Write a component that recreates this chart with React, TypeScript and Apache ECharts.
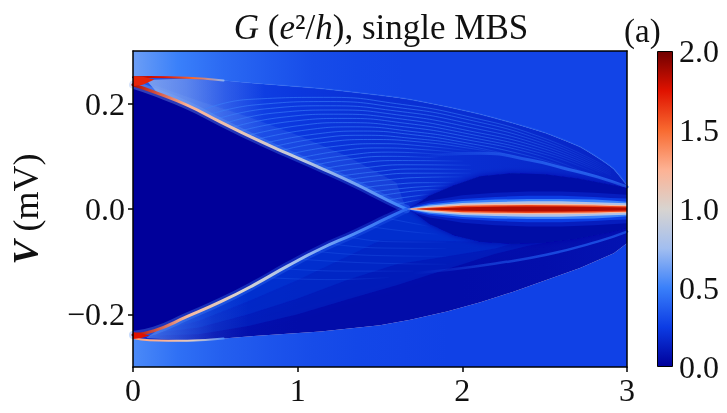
import React, { useEffect, useRef } from "react";
import * as echarts from "echarts";

type P = number[];

const xTicks = [0, 1, 2, 3];
const yTicks = [-0.2, 0, 0.2];
const barTicks = [0, 0.5, 1, 1.5, 2];

const cmapPos = [0, 0.25, 0.5, 0.75, 1, 1.25, 1.5, 1.75, 2];
const cmapHex = ["#00009a", "#0c3ce4", "#3a80fa", "#a2bef0", "#d8d4d0", "#fdb294", "#f86a30", "#e01200", "#700000"];

const upperEnvelope: P[] = [[0, 0.25], [0.1, 0.2505], [0.33, 0.249], [0.55, 0.244], [0.735, 0.239], [1.14, 0.229], [1.5, 0.216], [1.685, 0.208], [1.907, 0.194], [2.11, 0.18], [2.31, 0.163], [2.51, 0.144], [2.715, 0.118], [2.85, 0.092], [2.92, 0.076], [3, 0.045]];
const lowerEnvelope: P[] = [[0, -0.245], [0.1, -0.249], [0.33, -0.25], [0.55, -0.246], [0.735, -0.241], [1.14, -0.2326], [1.5, -0.2205], [1.685, -0.2105], [1.907, -0.1945], [2.11, -0.177], [2.31, -0.157], [2.51, -0.135], [2.715, -0.112], [2.92, -0.084], [3, -0.065]];
const upperGap: P[] = [[0, 0.236], [0.13, 0.222], [0.33, 0.197], [0.533, 0.165], [0.735, 0.134], [0.94, 0.105], [1.14, 0.0777], [1.34, 0.049], [1.545, 0.017], [1.66, 0]];
const lowerGap: P[] = [[0, -0.239], [0.13, -0.231], [0.33, -0.204], [0.533, -0.176], [0.735, -0.144], [0.94, -0.108], [1.14, -0.0755], [1.34, -0.0475], [1.545, -0.017], [1.66, 0]];
const upperRidge: P[] = [[1.75, 0.098], [1.9, 0.104], [2.11, 0.106], [2.41, 0.093], [2.61, 0.078], [2.82, 0.061], [3, 0.042]];
const lowerRidge: P[] = [[1.7, -0.122], [1.907, -0.116], [2.21, -0.103], [2.51, -0.087], [2.82, -0.062], [3, -0.043]];
const upperDome: P[] = [[1.68, 0], [1.8, 0.025], [1.95, 0.045], [2.11, 0.062], [2.3, 0.068], [2.5, 0.066], [2.7, 0.058], [2.9, 0.046], [3, 0.04]];
const lowerDome: P[] = [[1.68, 0], [1.8, -0.028], [1.95, -0.05], [2.11, -0.062], [2.3, -0.066], [2.5, -0.064], [2.7, -0.056], [2.9, -0.044], [3, -0.036]];
const upperBand: P[] = [[1.66, 0], [1.6, 0.05], [1.3, 0.1], [1.0, 0.14], [0.7, 0.175], [0.4, 0.205], [0.13, 0.235]];
const lowerBandA: P[] = [[0.13, -0.24], [0.4, -0.238], [0.7, -0.222], [1, -0.2], [1.3, -0.172], [1.6, -0.145], [1.9, -0.115], [2.2, -0.085], [2.4, -0.07]];
const lowerBandB: P[] = [[0.13, -0.235], [0.4, -0.225], [0.7, -0.2], [1, -0.17], [1.3, -0.135], [1.6, -0.105], [1.9, -0.09], [2.2, -0.075]];
const lowerBandC: P[] = [[0.13, -0.233], [0.4, -0.212], [0.7, -0.175], [1, -0.135], [1.3, -0.09], [1.5, -0.06], [1.8, -0.06], [2.1, -0.062]];
const tipBlob: P[] = [[0, 0.252], [0.06, 0.251], [0.13, 0.246], [0.06, 0.236], [0, 0.233]];
const lowerTipBlob: P[] = [[0, -0.247], [0.05, -0.245], [0.1, -0.24], [0.04, -0.235], [0, -0.234]];
const tipFill: P[] = [[0.08, 0.245], [0.33, 0.248], [0.8, 0.238], [0.8, 0.13], [0.33, 0.197], [0.15, 0.22]];
const lowerTipFill: P[] = [[0.08, -0.245], [0.33, -0.25], [0.7, -0.242], [0.7, -0.15], [0.33, -0.204], [0.15, -0.23]];

const lensX = [1.66, 1.72, 1.8, 1.9, 2.0, 2.2, 2.4, 2.6, 2.8, 2.9, 3.0];
const lensValues = [0.12, 0.25, 0.5, 0.8, 1.2, 1.6, 1.85];
const lensHalf = [
  [0, 0.009, 0.016, 0.021, 0.026, 0.031, 0.033, 0.033, 0.031, 0.029, 0.027],
  [0, 0.006, 0.012, 0.016, 0.019, 0.023, 0.025, 0.025, 0.023, 0.021, 0.02],
  [0, 0.004, 0.009, 0.012, 0.015, 0.018, 0.019, 0.019, 0.018, 0.016, 0.014],
  [0, 0.003, 0.0065, 0.009, 0.0115, 0.0135, 0.0145, 0.0145, 0.013, 0.012, 0.011],
  [0, 0.0015, 0.004, 0.0065, 0.0085, 0.0098, 0.01, 0.01, 0.0092, 0.0082, 0.0072],
  [0, 0.0006, 0.0022, 0.0045, 0.0062, 0.0072, 0.0074, 0.0072, 0.0065, 0.0056, 0.005],
  [0, 0, 0.0008, 0.002, 0.0035, 0.0045, 0.0048, 0.0046, 0.0038, 0.0032, 0.0028],
];

const upperFringes: P[][] = [
  [[0.4, 0.185], [0.7, 0.208], [1.2, 0.212], [1.6, 0.2], [2, 0.178], [2.5, 0.134], [2.9, 0.076]],
  [[0.45, 0.178], [0.75, 0.198], [1.2, 0.204], [1.6, 0.193], [2, 0.172], [2.5, 0.129], [2.9, 0.073]],
  [[0.5, 0.17], [0.8, 0.19], [1.2, 0.196], [1.6, 0.186], [2, 0.165], [2.5, 0.124], [2.9, 0.07]],
  [[0.55, 0.162], [0.85, 0.182], [1.25, 0.188], [1.6, 0.179], [2, 0.158], [2.5, 0.119], [2.9, 0.067]],
  [[0.6, 0.155], [0.9, 0.174], [1.25, 0.18], [1.6, 0.172], [2, 0.151], [2.5, 0.114], [2.9, 0.064]],
  [[0.65, 0.148], [0.95, 0.166], [1.3, 0.172], [1.65, 0.163], [2, 0.145], [2.5, 0.109], [2.85, 0.068]],
  [[0.7, 0.14], [1, 0.158], [1.3, 0.164], [1.65, 0.156], [2, 0.139], [2.5, 0.104], [2.8, 0.07]],
  [[0.75, 0.132], [1.05, 0.15], [1.35, 0.156], [1.7, 0.147], [2, 0.133], [2.45, 0.103], [2.75, 0.068]],
  [[0.8, 0.125], [1.1, 0.142], [1.4, 0.148], [1.7, 0.141], [2, 0.127], [2.4, 0.101], [2.7, 0.072]],
  [[0.85, 0.118], [1.12, 0.134], [1.4, 0.14], [1.7, 0.134], [2, 0.122], [2.35, 0.098]],
  [[0.9, 0.111], [1.15, 0.126], [1.45, 0.132], [1.75, 0.127], [2.05, 0.115], [2.25, 0.104]],
  [[0.95, 0.104], [1.2, 0.118], [1.5, 0.124], [1.75, 0.12], [2.05, 0.11]],
  [[1, 0.096], [1.25, 0.11], [1.5, 0.116], [1.8, 0.112], [2, 0.106]],
  [[1.05, 0.09], [1.3, 0.102], [1.55, 0.108], [1.9, 0.103]],
  [[1.1, 0.083], [1.3, 0.094], [1.55, 0.1], [1.85, 0.097]],
  [[1.15, 0.076], [1.35, 0.086], [1.6, 0.092], [2, 0.091]],
  [[1.2, 0.069], [1.4, 0.078], [1.65, 0.084], [2.05, 0.083]],
  [[1.25, 0.062], [1.45, 0.07], [1.7, 0.076], [2.05, 0.075]],
  [[1.3, 0.055], [1.45, 0.062], [1.7, 0.068], [2.05, 0.068]],
  [[1.35, 0.048], [1.5, 0.054], [1.75, 0.06], [2.0, 0.061]],
  [[1.4, 0.04], [1.55, 0.046], [1.8, 0.05], [1.95, 0.05]],
  [[1.45, 0.032], [1.6, 0.038], [1.8, 0.043], [1.92, 0.044]],
  [[1.5, 0.025], [1.6, 0.03], [1.78, 0.036], [1.88, 0.037]],
  [[1.55, 0.017], [1.65, 0.022], [1.8, 0.028]],
  [[1.6, 0.009], [1.68, 0.014], [1.76, 0.019]],
];
const lowerFringes: P[][] = [
  [[1.3, -0.052], [1.55, -0.062], [1.9, -0.063]],
  [[1.2, -0.066], [1.5, -0.074], [1.9, -0.075]],
  [[1.1, -0.08], [1.45, -0.088], [1.9, -0.09]],
  [[1.0, -0.095], [1.4, -0.102], [1.9, -0.105]],
  [[1.45, -0.034], [1.65, -0.042], [1.85, -0.048]],
  [[1.55, -0.018], [1.68, -0.026], [1.8, -0.033]],
  [[0.9, -0.113], [1.3, -0.118], [1.7, -0.118]],
  [[0.8, -0.13], [1.2, -0.134], [1.55, -0.13]],
];

const upperBgValues = [0.62, 0.5, 0.42, 0.36, 0.31, 0.29, 0.28, 0.28, 0.28, 0.28, 0.28, 0.28];
const lowerBgValues = [0.54, 0.44, 0.38, 0.34, 0.31, 0.29, 0.28, 0.27, 0.27, 0.27, 0.27, 0.27];
const upperWedgeValues = [0.36, 0.29, 0.23, 0.2, 0.19, 0.17, 0.14];
const lowerWedgeValues = [0.18, 0.07, 0.05, 0.05, 0.05, 0.06, 0.08];
const gapEdgeValues = [1.85, 1.25, 1.1, 0.9, 0.65, 0.5];
const lowerGapEdgeValues = [1.85, 1.2, 1.0, 0.75, 0.55, 0.4];
const upperTipValues = [1.85, 1.75, 1.5, 0.7];
const lowerTipValues = [1.3, 1.25, 1.05, 0.55];

function hexRgb(h: string) {
  return [1, 3, 5].map((i) => parseInt(h.slice(i, i + 2), 16));
}
function colorOf(v: number, alpha = 1) {
  let i = 0;
  while (i < cmapPos.length - 2 && v > cmapPos[i + 1]) i++;
  const t = (v - cmapPos[i]) / (cmapPos[i + 1] - cmapPos[i]);
  const a = hexRgb(cmapHex[i]);
  const b = hexRgb(cmapHex[i + 1]);
  const c = a.map((x, k) => Math.round(x + (b[k] - x) * t));
  return `rgba(${c[0]},${c[1]},${c[2]},${alpha})`;
}
function gradient(values: number[], vertical = false, alpha = 1) {
  return new echarts.graphic.LinearGradient(0, 0, vertical ? 0 : 1, vertical ? 1 : 0,
    values.map((v, i) => ({ offset: i / (values.length - 1), color: colorOf(v, alpha) })));
}
function fade(v: number, alphas: number[]) {
  return new echarts.graphic.LinearGradient(0, 0, 1, 0,
    alphas.map((al, i) => ({ offset: i / (alphas.length - 1), color: colorOf(v, al) })));
}
const rev = (a: P[]) => [...a].reverse();

function lens(i: number): P[] {
  const top = lensX.map((x, k) => [x, lensHalf[i][k]]);
  const bot = lensX.map((x, k) => [x, -lensHalf[i][k]]);
  return [...top, ...rev(bot)];
}

function regionSeries(regions: { pts: P[]; fill: any; soft?: number; shade?: string }[], z: number) {
  return {
    type: "custom", coordinateSystem: "cartesian2d", xAxisIndex: 0, yAxisIndex: 0, z, silent: true, clip: true,
    data: regions.map((_, i) => [i, 0]),
    renderItem: (params: any, api: any) => {
      const r = regions[params.dataIndex];
      const style: any = { fill: r.fill };
      if (r.soft) {
        style.shadowBlur = r.soft;
        style.shadowColor = r.shade;
      }
      return { type: "polygon", shape: { points: r.pts.map((p) => api.coord(p)) }, style };
    },
  };
}

export default function App() {
  const ref = useRef<HTMLDivElement>(null);
  useEffect(() => {
    const chart = echarts.init(ref.current!, undefined, { renderer: "svg" });
    const lowerEdge = lowerGap.slice(1);
    const regions = [
      { pts: [[0, 0.3], [3, 0.3], ...rev(upperEnvelope)], fill: gradient(upperBgValues) },
      { pts: [[0, -0.3], [3, -0.3], ...rev(lowerEnvelope)], fill: gradient(lowerBgValues) },
      { pts: [...upperEnvelope, [3, 0], [1.66, 0], ...rev(upperGap)], fill: gradient(upperWedgeValues) },
      { pts: [...lowerEnvelope, [3, 0], [1.66, 0], ...rev(lowerGap)], fill: gradient(lowerWedgeValues) },
    ];
    const softRegions = [
      { pts: [...upperGap.slice(1), ...upperBand], fill: colorOf(0.6, 0.14), soft: 8, shade: colorOf(0.6, 0.14) },
      { pts: [...lowerEdge, ...lowerDome.slice(0, 6), ...rev(lowerBandA)], fill: colorOf(0.3, 0.22), soft: 10, shade: colorOf(0.3, 0.2) },
      { pts: [...lowerEdge, ...lowerDome.slice(0, 5), ...rev(lowerBandB)], fill: colorOf(0.3, 0.22), soft: 10, shade: colorOf(0.3, 0.2) },
      { pts: [...lowerEdge, ...lowerDome.slice(0, 4), ...rev(lowerBandC)], fill: colorOf(0.3, 0.22), soft: 10, shade: colorOf(0.3, 0.2) },
      { pts: tipFill, fill: fade(0.75, [0.7, 0.5, 0.2, 0]) },
      { pts: lowerTipFill, fill: fade(0.6, [0.6, 0.35, 0.12, 0]) },
    ];
    const gapRegion = [{ pts: [...upperGap, ...rev(lowerGap)], fill: colorOf(0) }];
    const domeRegions = [
      { pts: [...upperDome, [3, 0]], fill: colorOf(0.04), soft: 6, shade: colorOf(0.04, 0.8) },
      { pts: [...lowerDome, [3, 0]], fill: colorOf(0.04), soft: 6, shade: colorOf(0.04, 0.8) },
      ...lensValues.map((v, i) => ({ pts: lens(i), fill: colorOf(v) })),
    ];

    const line = (data: P[], color: any, width: number, z = 3) => ({
      type: "line", data, smooth: true, symbol: "none", silent: true, z,
      lineStyle: { color, width, cap: "round" }, clip: true,
    });

    const series: any[] = [
      regionSeries(regions, 2),
      regionSeries(softRegions, 2.2),
      regionSeries(gapRegion, 2.4),
      ...upperFringes.map((a) => line(a, fade(0.5, [0.6, 0.6, 0.6, 0.45, 0.05]), 1)),
      ...lowerFringes.map((a) => line(a, fade(0.4, [0.3, 0.3, 0.25, 0.05]), 1)),
      line(upperRidge, fade(0.42, [0, 0.5, 0.8, 0.85]), 3),
      line(lowerRidge, fade(0.36, [0, 0.5, 0.75, 0.8]), 2.5),
      line(upperEnvelope.slice(3), colorOf(0.42, 0.45), 1.5),
      regionSeries(domeRegions, 3.5),
      line(upperGap, gradient([0.7, 0.6, 0.5, 0.45], false, 0.35), 8, 4),
      line(lowerGap, gradient([0.6, 0.5, 0.4, 0.35], false, 0.35), 8, 4),
      line(upperGap, gradient(gapEdgeValues), 3, 4),
      line(lowerGap, gradient(lowerGapEdgeValues), 3, 4),
      line(upperEnvelope.slice(0, 4), gradient(upperTipValues), 2, 4),
      line(lowerEnvelope.slice(0, 4), gradient(lowerTipValues), 2, 4),
      regionSeries([{ pts: tipBlob, fill: colorOf(1.7) }, { pts: lowerTipBlob, fill: colorOf(1.75) }], 5),
      {
        type: "bar", xAxisIndex: 2, yAxisIndex: 2, data: [2], barWidth: "100%", silent: true,
        itemStyle: { color: gradient([...cmapPos].reverse(), true), borderColor: "#000", borderWidth: 1 },
      },
    ];

    const textStyle = { fontFamily: "Liberation Serif, serif", color: "#111" };

    chart.setOption({
      animation: false,
      backgroundColor: "#fff",
      title: {
        left: 376, top: 5, textAlign: "center",
        text: "{i|G} ({i|e}²/{i|h}), single MBS",
        textStyle: { ...textStyle, fontSize: 35, fontWeight: "normal", rich: { i: { ...textStyle, fontSize: 35, fontStyle: "italic" } } },
      },
      graphic: [{ type: "text", left: 624, top: 14, style: { text: "(a)", font: "33px Liberation Serif, serif", fill: "#111" } }],
      grid: [
        { left: 132, top: 51, width: 495, height: 316 },
        { left: 657, top: 51, width: 16, height: 316 },
      ],
      xAxis: [
        {
          type: "value", gridIndex: 0, min: 0, max: 3, interval: 1, z: 10, splitLine: { show: false },
          axisLine: { onZero: false, lineStyle: { color: "#000", width: 1.5 } }, axisTick: { length: 5, lineStyle: { color: "#000", width: 1.5 } },
          axisLabel: { ...textStyle, fontSize: 32, margin: 7, showMinLabel: true, showMaxLabel: true },
        },
        {
          type: "value", gridIndex: 0, position: "top", min: 0, max: 3, z: 10, splitLine: { show: false },
          axisLine: { onZero: false, lineStyle: { color: "#000", width: 1.5 } }, axisTick: { show: false }, axisLabel: { show: false },
        },
        { type: "category", gridIndex: 1, data: ["c"], show: false },
      ],
      yAxis: [
        {
          type: "value", gridIndex: 0, min: -0.3, max: 0.3, z: 10, splitLine: { show: false },
          name: "{i|V} (mV)", nameLocation: "middle", nameGap: 89,
          nameTextStyle: { ...textStyle, fontSize: 36, rich: { i: { ...textStyle, fontSize: 36, fontStyle: "italic", fontWeight: "bold" } } },
          axisLine: { onZero: false, lineStyle: { color: "#000", width: 1.5 } },
          axisTick: { length: 5, customValues: yTicks, lineStyle: { color: "#000", width: 1.5 } },
          axisLabel: {
            ...textStyle, fontSize: 32, margin: 8, customValues: yTicks,
            formatter: (v: number) => (v < 0 ? "\u2212" : "") + Math.abs(v).toFixed(1),
          },
        },
        {
          type: "value", gridIndex: 0, position: "right", min: -0.3, max: 0.3, z: 10, splitLine: { show: false },
          axisLine: { show: true, onZero: false, lineStyle: { color: "#000", width: 1.5 } }, axisTick: { show: false }, axisLabel: { show: false },
        },
        {
          type: "value", gridIndex: 1, position: "right", min: 0, max: 2, interval: 0.5, splitLine: { show: false },
          axisLine: { show: false }, axisTick: { length: 4, lineStyle: { color: "#000", width: 1.2 } },
          axisLabel: { ...textStyle, fontSize: 32, margin: 6, customValues: barTicks, formatter: (v: number) => v.toFixed(1) },
        },
      ],
      series,
    });
    return () => chart.dispose();
  }, []);
  return (
    <div
      ref={ref}
      data-xticks={xTicks.join(",")}
      style={{ position: "fixed", left: 0, top: 0, width: 727, height: 413, filter: "blur(0.6px)" }}
    />
  );
}
